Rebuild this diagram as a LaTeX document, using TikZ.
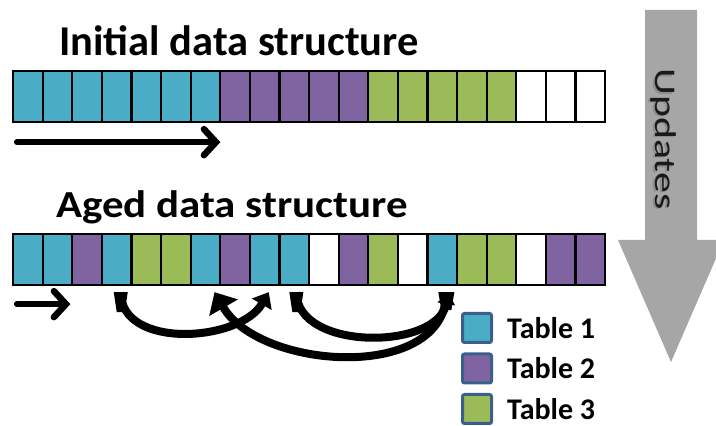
\documentclass[tikz,border=0pt]{standalone}
\usepackage{fontspec}
\setmainfont{Carlito}
\usepackage{xcolor}
\usetikzlibrary{arrows.meta,matrix,positioning}
\definecolor{tone}{HTML}{4BACC6}
\definecolor{ttwo}{HTML}{8064A2}
\definecolor{tthree}{HTML}{9BBB59}
\definecolor{keyline}{HTML}{3A5F8B}
\definecolor{updgray}{HTML}{A6A6A6}

\tikzset{
  tab1/.style={fill=tone}, tab2/.style={fill=ttwo},
  tab3/.style={fill=tthree}, free/.style={fill=white},
  cellrow/.style={matrix of nodes, inner sep=0pt, outer sep=0pt,
    nodes={draw, line width=2.3pt, minimum width=29.6pt,
      minimum height=51pt, inner sep=0pt, outer sep=0pt, anchor=center},
    nodes in empty cells, column sep=-2.3pt},
  title/.style={font=\fontsize{42.5}{44}\selectfont\bfseries,
    inner sep=0pt, anchor=base west},
  flow/.style={line width=6.5pt, line cap=round,
    -{Straight Barb[length=12pt,width=26pt,line cap=round]}},
  move/.style={line width=8pt},
  key/.style={draw=keyline, line width=3pt, rounded corners=2pt,
    minimum size=29pt, inner sep=0pt},
  keytext/.style={font=\fontsize{30}{30}\selectfont\bfseries,
    inner sep=0pt, anchor=west}
}

\begin{document}
\begin{tikzpicture}[x=1pt,y=1pt]
  \useasboundingbox (0,0) rectangle (716,426);

  \node[title] (ttlinit) at (59,370) {Initial data structure};
  \matrix (init) [cellrow, anchor=north west] at (12,356)
  {
    |[tab1]| & |[tab1]| & |[tab1]| & |[tab1]| & |[tab1]| & |[tab1]| & |[tab1]| &
    |[tab2]| & |[tab2]| & |[tab2]| & |[tab2]| & |[tab2]| &
    |[tab3]| & |[tab3]| & |[tab3]| & |[tab3]| & |[tab3]| &
    |[free]| & |[free]| & |[free]| \\
  };
  \coordinate (s1) at ([xshift=4pt,yshift=-20pt]init-1-1.south west);
  \coordinate (e1) at ([yshift=-20pt]init-1-7.south east);
  \draw[flow] (s1) -- (e1);

  \node[title] (ttlaged) at (56,208) {\scalebox{1.01}[0.9]{Aged data structure}};
  \matrix (aged) [cellrow, anchor=north west] at (12,193)
  {
    |[tab1]| & |[tab1]| & |[tab2]| & |[tab1]| & |[tab3]| & |[tab3]| & |[tab1]| &
    |[tab2]| & |[tab1]| & |[tab1]| & |[free]| & |[tab2]| & |[tab3]| & |[free]| &
    |[tab1]| & |[tab3]| & |[tab3]| & |[free]| & |[tab2]| & |[tab2]| \\
  };
  \coordinate (s2) at ([xshift=4pt,yshift=-19pt]aged-1-1.south west);
  \coordinate (e2) at ([xshift=-2pt,yshift=-19pt]aged-1-3.south west);
  \draw[flow] (s2) -- (e2);

  \draw[move, -{Triangle[length=14pt,width=22pt]}]
    ([xshift=4pt,yshift=-7pt]aged-1-4.south) to[out=-90,in=-120]
    ([xshift=4pt,yshift=-7pt]aged-1-9.south);
  \draw[move, -{Triangle[length=18pt,width=32pt]}]
    ([xshift=4pt,yshift=-7pt]aged-1-15.south) to[out=-90,in=-60]
    ([xshift=9pt,yshift=-7pt]aged-1-7.south);
  \draw[move, -{Triangle[length=12pt,width=17pt]}]
    ([xshift=2pt,yshift=-7pt]aged-1-10.south) to[out=-90,in=-100]
    ([xshift=6pt,yshift=-7pt]aged-1-15.south);
  \fill ([yshift=-7pt]aged-1-4.south) ++(-3,0) -- ++(14,0) -- ++(-3,-20)
    -- ++(-8,0) -- cycle;
  \fill ([yshift=-7pt]aged-1-10.south) ++(-5,0) -- ++(14,0) -- ++(-3,-20)
    -- ++(-8,0) -- cycle;
  \fill ([yshift=-7pt]aged-1-15.south) ++(-4,0) -- ++(16,0) -- ++(-3,-18)
    -- ++(-10,0) -- cycle;

  \fill[updgray] (645,416) -- (697,416) -- (697,186) -- (724,186)
    -- (671,64) -- (618,186) -- (645,186) -- cycle;
  \node[rotate=-90, text=black!45, font=\fontsize{30}{30}\selectfont]
    at (661.5,285.5) {\scalebox{1.39}[1]{Updates}};
  \node[rotate=-90, text=black!90, font=\fontsize{30}{30}\selectfont]
    (upd) at (663.5,287) {\scalebox{1.39}[1]{Updates}};

  \node[key, fill=tone] (k1) at (477,98) {};
  \node[key, fill=ttwo, below=8.5pt of k1] (k2) {};
  \node[key, fill=tthree, below=8.5pt of k2] (k3) {};
  \node[keytext, right=14pt of k1] (l1) {Table 1};
  \node[keytext, right=14pt of k2] (l2) {Table 2};
  \node[keytext, right=14pt of k3] (l3) {Table 3};
\end{tikzpicture}
\end{document}
